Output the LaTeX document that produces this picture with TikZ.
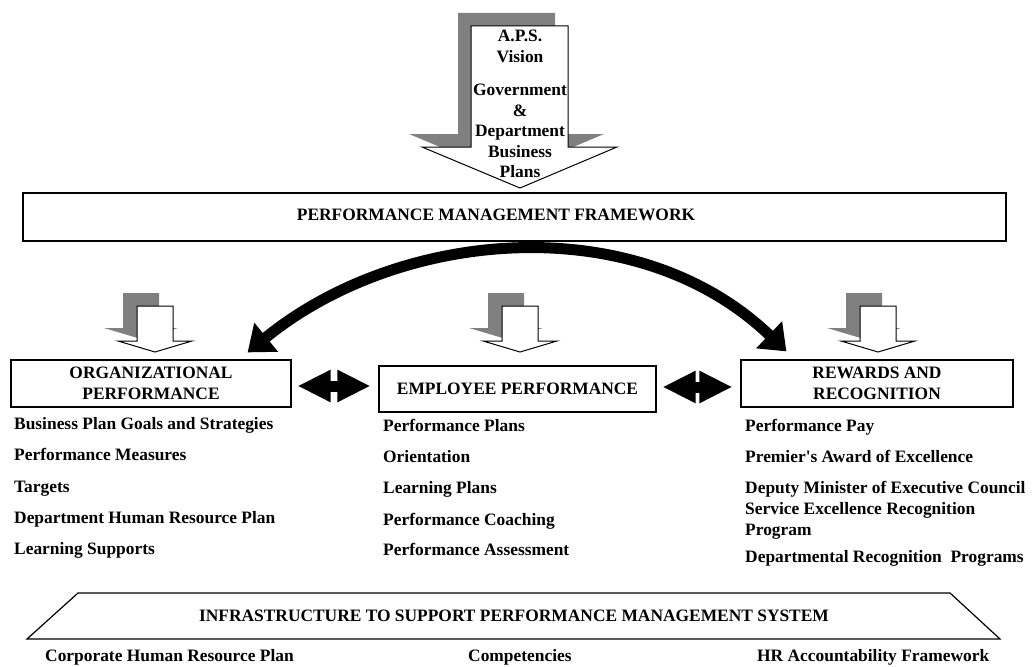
\documentclass[tikz,border=0pt]{standalone}
\usepackage{fontspec}
\setmainfont{Liberation Serif}
\usetikzlibrary{arrows.meta,calc}
\definecolor{shadegray}{RGB}{128,128,128}
\tikzset{
  dropbox/.pic={
    % grey offset shadow
    \fill[shadegray] (-32,-13) -- (4,-13) -- (4,22) -- (23,22) -- (-14,33)
      -- (-51,22) -- (-32,22) -- cycle;
    % white block arrow
    \filldraw[fill=white, line width=1pt] (-18,0) -- (18,0) -- (18,35) -- (37,35)
      -- (0,46) -- (-37,35) -- (-18,35) -- cycle;
  }
}
\begin{document}
\begin{tikzpicture}[x=1pt,y=-1pt,
  every node/.style={font=\fontsize{17.4}{20.5}\selectfont\bfseries, inner sep=0pt},
  panel/.style={draw, line width=1.2pt, align=center},
  item/.style={anchor=base west},
  bigcurve/.style={line width=11pt,
    {Triangle[length=24pt,width=36pt]}-{Triangle[length=24pt,width=36pt]}},
  twinarrow/.style={line width=11pt,
    {Triangle[length=33pt,width=30pt]}-{Triangle[length=33pt,width=30pt]}}]
\useasboundingbox (0,0) rectangle (1035,666);

% top block arrow with shadow
\fill[shadegray] (458,13) -- (555,13) -- (555,134) -- (604,134) -- (507,175)
  -- (409,134) -- (458,134) -- cycle;
\filldraw[fill=white, line width=1pt] (471,26) -- (568,26) -- (568,147) -- (617,147)
  -- (520,188) -- (422,147) -- (471,147) -- cycle;
\node[align=center, anchor=north] (vision) at (520,30)
  {A.P.S.\\Vision\\[13pt]Government\\\&\\Department\\Business\\Plans};

% framework bar
\node[panel, minimum width=983, minimum height=48] (pmf) at (514.5,217) {};
\node (pmftitle) at (496,215) {PERFORMANCE MANAGEMENT FRAMEWORK};

% small block arrows
\pic at (155,306) {dropbox};
\pic at (520,306) {dropbox};
\pic at (878,306) {dropbox};

% three component boxes
\node[panel, minimum width=280, minimum height=47] (org) at (151,383.5)
  {ORGANIZATIONAL\\PERFORMANCE};
\node[panel, minimum width=277, minimum height=46] (emp) at (517.5,389)
  {EMPLOYEE PERFORMANCE};
\node[panel, minimum width=272, minimum height=47] (rew) at (877,383.5)
  {REWARDS AND\\RECOGNITION};

% connectors
\draw[bigcurve] ([shift={(-44,-7)}]org.north east) .. controls (400,228) and (637,208)
  .. ([shift={(46,-8)}]rew.north west);
\draw[twinarrow] ([shift={(6,2.5)}]org.east) -- ([shift={(-8,-3)}]emp.west);
\draw[twinarrow] ([shift={(6,-2)}]emp.east) -- ([shift={(-8,3.5)}]rew.west);

% lists
\node[item] (o1) at (14,429) {Business Plan Goals and Strategies};
\node[item] (o2) at (14,460) {Performance Measures};
\node[item] (o3) at (14,492) {Targets};
\node[item] (o4) at (14,523) {Department Human Resource Plan};
\node[item] (o5) at (14,554) {Learning Supports};

\node[item] (e1) at (383,431) {Performance Plans};
\node[item] (e2) at (383,462) {Orientation};
\node[item] (e3) at (383,493) {Learning Plans};
\node[item] (e4) at (383,525) {Performance Coaching};
\node[item] (e5) at (383,555) {Performance Assessment};

\node[item] (r1) at (745,431) {Performance Pay};
\node[item] (r2) at (745,462) {Premier\textquotesingle s Award of Excellence};
\node[item] (r3) at (745,493) {Deputy Minister of Executive Council};
\node[item] (r4) at (745,514) {Service Excellence Recognition};
\node[item] (r5) at (745,535) {Program};
\node[item] (r6) at (745,562) {Departmental Recognition\ \ Programs};

% infrastructure base
\draw[line width=1.2pt] (78,593) -- (950,593) -- (1000,639) -- (27,639) -- cycle;
\node (infra) at (514,616) {INFRASTRUCTURE TO SUPPORT PERFORMANCE MANAGEMENT SYSTEM};

\node[item] (b1) at (45,661) {Corporate Human Resource Plan};
\node[item] (b2) at (468,661) {Competencies};
\node[item] (b3) at (757,661) {HR Accountability Framework};
\end{tikzpicture}
\end{document}
